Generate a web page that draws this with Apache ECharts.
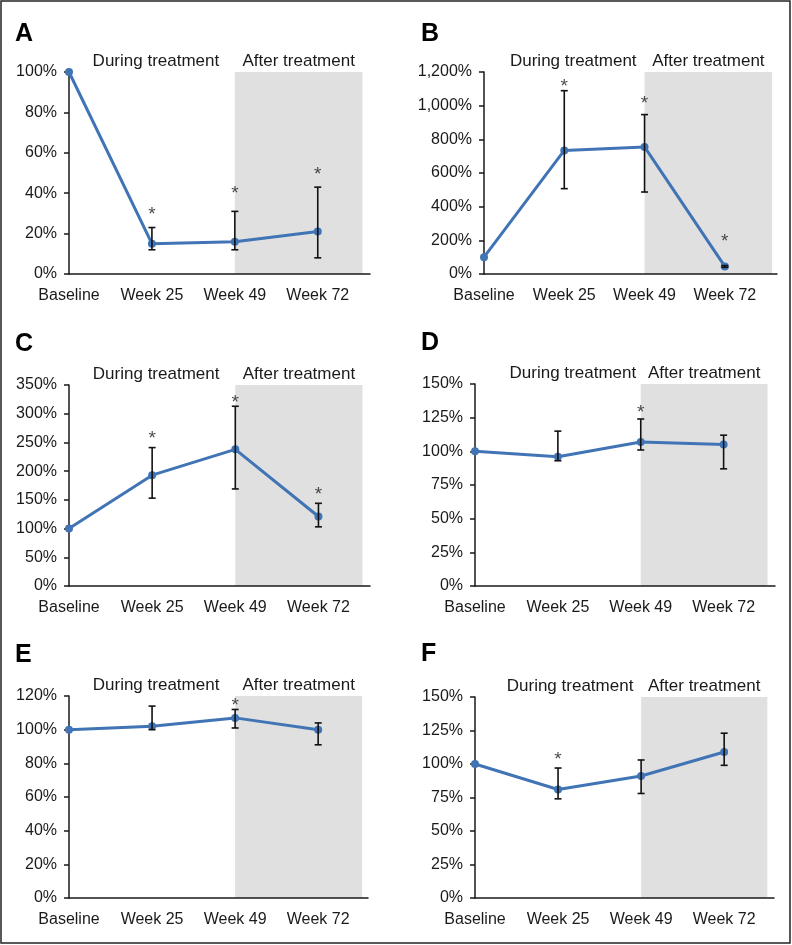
<!DOCTYPE html>
<html>
<head>
<meta charset="utf-8">
<script src="https://cdn.jsdelivr.net/npm/echarts@6/dist/echarts.min.js"></script>
<style>
html,body{margin:0;padding:0;background:#fff;}
#chart{width:792px;height:945px;}
</style>
</head>
<body>
<div id="chart"></div>
<script>
// ---- data ----
const categories = ['Baseline', 'Week 25', 'Week 49', 'Week 72'];
const panelLetters = ['A', 'B', 'C', 'D', 'E', 'F'];
const duringLabel = 'During treatment';
const afterLabel = 'After treatment';

const meanA = [100, 15, 16, 21];
const lowA  = [null, 12, 12, 8];
const highA = [null, 23, 31, 43];
const starA = [null, 32, 42, 51.5];

const meanB = [100, 734, 755, 45];
const lowB  = [null, 507, 487, 40];
const highB = [null, 1089, 947, 50];
const starB = [null, 1141, 1042, 223];

const meanC = [100, 193, 238, 121];
const lowC  = [null, 153, 169, 103];
const highC = [null, 241, 313, 144];
const starC = [null, 265, 328, 167];

const meanD = [100, 96, 107, 105];
const lowD  = [null, 93, 101, 87];
const highD = [null, 115, 124, 112];
const starD = [null, null, 132, null];

const meanE = [100, 102, 107, 100];
const lowE  = [null, 100, 101, 91];
const highE = [null, 114, 112, 104];
const starE = [null, null, 117, null];

const meanF = [100, 81, 91, 109];
const lowF  = [null, 74, 78, 99];
const highF = [null, 97, 103, 123];
const starF = [null, 107, null, null];

const yMaxes     = [100, 1200, 350, 150, 120, 150];
const yIntervals = [20, 200, 50, 25, 20, 25];
const afterStartIndex = 2; // Week 49

// ---- layout (positions / sizes only) ----
const layouts = [
  {left: 69,  top: 72,  width: 301, height: 202, xMax: 3.63, shadeEnd: 3.54, duringDx: 4,  letter: [15, 22]},
  {left: 484, top: 72,  width: 293, height: 202, xMax: 3.65, shadeEnd: 3.59, duringDx: 9,  letter: [421, 22]},
  {left: 69,  top: 385, width: 301, height: 201, xMax: 3.62, shadeEnd: 3.53, duringDx: 4,  letter: [15, 332]},
  {left: 475, top: 384, width: 300, height: 202, xMax: 3.62, shadeEnd: 3.53, duringDx: 15, letter: [421, 331]},
  {left: 69,  top: 696, width: 299, height: 202, xMax: 3.60, shadeEnd: 3.53, duringDx: 4,  letter: [15, 643]},
  {left: 475, top: 697, width: 299, height: 201, xMax: 3.60, shadeEnd: 3.52, duringDx: 12, letter: [421, 642]}
];

const means = [meanA, meanB, meanC, meanD, meanE, meanF];
const lows  = [lowA, lowB, lowC, lowD, lowE, lowF];
const highs = [highA, highB, highC, highD, highE, highF];
const stars = [starA, starB, starC, starD, starE, starF];

const FONT = '"Liberation Sans", Arial, Helvetica, sans-serif';
const INK = '#1a1a1a';
const BLUE = '#4074b5';
const SHADE = '#e0e0e0';

const chart = echarts.init(document.getElementById('chart'), null, {renderer: 'canvas'});

const titles = [], grids = [], xAxes = [], yAxes = [], series = [];

layouts.forEach((L, i) => {
  titles.push({
    text: panelLetters[i], left: L.letter[0], top: L.letter[1], padding: 0,
    textStyle: {fontFamily: FONT, fontSize: 25, fontWeight: 'bold', color: '#000'}
  });
  grids.push({left: L.left, top: L.top, width: L.width, height: L.height, containLabel: false, outerBoundsMode: 'none'});
  xAxes.push({
    type: 'value', gridIndex: i, min: 0, max: L.xMax, interval: 1, z: 3,
    splitLine: {show: false}, axisTick: {show: false},
    axisLine: {show: true, onZero: false, lineStyle: {color: INK, width: 1.5}},
    axisLabel: {
      show: true, margin: 14, fontSize: 16, fontFamily: FONT, color: INK,
      showMaxLabel: false, showMinLabel: true,
      formatter: v => (Number.isInteger(v) && categories[v] !== undefined) ? categories[v] : ''
    }
  });
  yAxes.push({
    type: 'value', gridIndex: i, min: 0, max: yMaxes[i], interval: yIntervals[i], z: 3,
    splitLine: {show: false},
    axisLine: {show: true, lineStyle: {color: INK, width: 1.5}},
    axisTick: {show: true, inside: false, length: 5, lineStyle: {color: INK, width: 1.5}},
    axisLabel: {
      margin: 12, fontSize: 16, fontFamily: FONT, color: INK,
      formatter: v => v.toLocaleString('en-US') + '%'
    }
  });

  const lineData = means[i].map((v, k) => [k, v]);

  // shading + period labels
  series.push({
    type: 'line', xAxisIndex: i, yAxisIndex: i, z: 1, silent: true,
    data: lineData, symbol: 'none', lineStyle: {opacity: 0},
    markArea: {
      silent: true,
      data: [
        [
          {coord: [0, 0], itemStyle: {color: 'rgba(0,0,0,0)'},
           label: {show: true, position: 'top', distance: 2, offset: [L.duringDx, 0], formatter: duringLabel,
                   fontFamily: FONT, fontSize: 17, color: INK}},
          {coord: [afterStartIndex, yMaxes[i]]}
        ],
        [
          {coord: [afterStartIndex, 0], itemStyle: {color: SHADE},
           label: {show: true, position: 'top', distance: 2, formatter: afterLabel,
                   fontFamily: FONT, fontSize: 17, color: INK}},
          {coord: [L.shadeEnd, yMaxes[i]]}
        ]
      ]
    }
  });

  // mean line
  series.push({
    type: 'line', xAxisIndex: i, yAxisIndex: i, z: 5,
    data: lineData, color: BLUE,
    lineStyle: {width: 3, color: BLUE},
    symbol: 'circle', symbolSize: 8, showSymbol: true,
    itemStyle: {color: BLUE}
  });

  // error bars
  const errData = [];
  means[i].forEach((v, k) => { if (lows[i][k] != null) errData.push([k, lows[i][k], highs[i][k]]); });
  series.push({
    type: 'custom', xAxisIndex: i, yAxisIndex: i, z: 6,
    data: errData, encode: {x: 0, y: [1, 2]},
    renderItem: (params, api) => {
      const x = api.value(0), lo = api.value(1), hi = api.value(2);
      const p1 = api.coord([x, lo]), p2 = api.coord([x, hi]);
      const w = 3.5;
      const st = {stroke: '#111', lineWidth: 1.6};
      return {type: 'group', children: [
        {type: 'line', shape: {x1: p1[0], y1: p1[1], x2: p2[0], y2: p2[1]}, style: st},
        {type: 'line', shape: {x1: p1[0] - w, y1: p1[1], x2: p1[0] + w, y2: p1[1]}, style: st},
        {type: 'line', shape: {x1: p2[0] - w, y1: p2[1], x2: p2[0] + w, y2: p2[1]}, style: st}
      ]};
    }
  });

  // significance asterisks
  const starData = [];
  stars[i].forEach((v, k) => { if (v != null) starData.push([k, v]); });
  series.push({
    type: 'scatter', xAxisIndex: i, yAxisIndex: i, z: 7, silent: true,
    data: starData, symbolSize: 1, itemStyle: {color: 'rgba(0,0,0,0)'},
    label: {show: true, position: 'inside', formatter: '*', offset: [0, 5],
            fontFamily: FONT, fontSize: 19, color: INK}
  });
});

chart.setOption({
  animation: false,
  backgroundColor: '#ffffff',
  textStyle: {fontFamily: FONT},
  title: titles,
  grid: grids,
  xAxis: xAxes,
  yAxis: yAxes,
  series: series,
  graphic: [{
    type: 'rect', z: 100, silent: true,
    shape: {x: 1, y: 1, width: 789, height: 942},
    style: {fill: null, stroke: '#222', lineWidth: 1.5}
  }]
});
</script>
</body>
</html>
